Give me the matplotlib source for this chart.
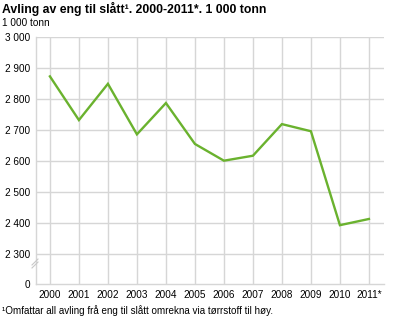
import matplotlib
matplotlib.use("Agg")
import matplotlib.pyplot as plt

years = ["2000", "2001", "2002", "2003", "2004", "2005", "2006", "2007", "2008", "2009", "2010", "2011*"]
values = [2873, 2732, 2849, 2686, 2787, 2655, 2601, 2617, 2719, 2696, 2393, 2413]
ytick_vals = [2300, 2400, 2500, 2600, 2700, 2800, 2900, 3000]
ytick_labels = ["2 300", "2 400", "2 500", "2 600", "2 700", "2 800", "2 900", "3 000"]

plt.rcParams['font.family'] = ['Liberation Sans', 'DejaVu Sans']

fig = plt.figure(figsize=(4, 3.2), dpi=100)
ax = fig.add_axes([36/400, 1-284/320, 348/400, 247/320])

ybottom = 2300 - 30/0.31
x = list(range(len(years)))
ax.set_xlim(-0.48, len(years) - 0.48)
ax.set_ylim(ybottom, 3000)

grid_c = "#d6d6d6"
for v in ytick_vals:
    ax.axhline(v, color=grid_c, lw=1, zorder=1)
for xi in x:
    ax.axvline(xi, color=grid_c, lw=1, zorder=1)

ax.plot(x, values, color="#6ab22e", lw=1.7, zorder=3, solid_joinstyle='miter')

for s in ["top", "right"]:
    ax.spines[s].set_visible(False)
ax.spines["left"].set_color(grid_c)
ax.spines["bottom"].set_color(grid_c)
ax.spines["left"].set_linewidth(1)
ax.spines["bottom"].set_linewidth(1)

ax.set_yticks([ybottom] + ytick_vals)
ax.set_yticklabels(["0"] + ytick_labels, fontsize=7.2, color="#000000")
ax.set_xticks(x)
ax.set_xticklabels(years, fontsize=7.2, color="#000000")
ax.tick_params(axis='y', length=0, pad=4)
ax.tick_params(axis='x', length=0, pad=4)

# axis break marks
for dy in (0, 3):
    ax.plot([-4/348, 2/348], [(19 + dy)/247 - 0.012, (19 + dy)/247 + 0.012],
            transform=ax.transAxes, color="#c8c8c8", lw=0.8, clip_on=False, zorder=4)

fig.text(2/400, 1-13/320, "Avling av eng til slått¹. 2000-2011*. 1 000 tonn",
         fontsize=8.8, fontweight="bold", ha="left", va="baseline")
fig.text(2/400, 1-26/320, "1 000 tonn", fontsize=7.2, ha="left", va="baseline")
fig.text(2/400, 1-314/320, "¹Omfattar all avling frå eng til slått omrekna via tørrstoff til høy.",
         fontsize=7.1, ha="left", va="baseline")

fig.savefig("out.png", dpi=100, facecolor="white")
